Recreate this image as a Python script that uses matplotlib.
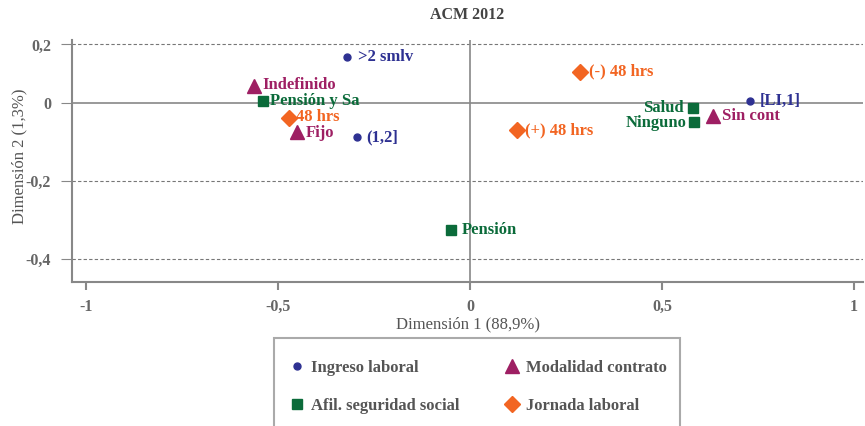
import matplotlib
matplotlib.use('Agg')
import matplotlib.pyplot as plt
from matplotlib.patches import Rectangle

# coordenadas del ACM 2012
ingreso_lab = ['>2 smlv', '(1,2]', '[LI,1]']
ingreso_x = [-0.32, -0.294, 0.729]
ingreso_y = [0.118, -0.087, 0.005]

modalidad_lab = ['Indefinido', 'Fijo', 'Sin cont']
modalidad_x = [-0.562, -0.45, 0.632]
modalidad_y = [0.044, -0.074, -0.033]

afil_lab = ['Pensión y Sa', 'Salud', 'Ninguno', 'Pensión']
afil_x = [-0.539, 0.58, 0.583, -0.049]
afil_y = [0.005, -0.012, -0.05, -0.326]

jornada_lab = ['48 hrs', '(-) 48 hrs', '(+) 48 hrs']
jornada_x = [-0.471, 0.287, 0.122]
jornada_y = [-0.038, 0.08, -0.069]

yticks = [-0.4, -0.2, 0, 0.15]
ytick_labels = ['-0,4', '-0,2', '0', '0,2']
xticks = [-1, -0.5, 0, 0.5, 1]
xtick_labels = ['-1', '-0,5', '0', '0,5', '1']

azul = '#2e3192'
morado = '#9e1f63'
verde = '#0b6b3a'
naranja = '#f26522'
gris = '#666666'

fuente = ['Liberation Serif', 'DejaVu Serif']
plt.rcParams['font.family'] = fuente

fig = plt.figure(figsize=(8.65, 4.26), dpi=100)
ax = fig.add_axes([72/865, 1-282/426, (863-72)/865, (282-40)/426])

ax.set_xlim(-1.036, 1.023)
ax.set_ylim(-0.459, 0.1615)

for y in [-0.4, -0.2, 0.15]:
    ax.axhline(y, color='#777777', lw=0.8, ls=(0, (3, 2)), zorder=1)
ax.axhline(0, color='#888888', lw=1.2, zorder=1)
ax.axvline(0, color='#888888', lw=1.2, zorder=1)

h1, = ax.plot(ingreso_x, ingreso_y, 'o', color=azul, ms=5, ls='none', label='Ingreso laboral', zorder=3)
h2, = ax.plot(modalidad_x, modalidad_y, '^', color=morado, ms=10, ls='none', label='Modalidad contrato', zorder=3)
h3, = ax.plot(afil_x, afil_y, 's', color=verde, ms=7.5, ls='none', label='Afil. seguridad social', zorder=3)
h4, = ax.plot(jornada_x, jornada_y, 'D', color=naranja, ms=8.5, ls='none', label='Jornada laboral', zorder=3)

def etiquetas(labs, xs, ys, color, offs, dys):
    for lab, x, y, dx, dy in zip(labs, xs, ys, offs, dys):
        ax.annotate(lab, (x, y), xytext=(dx, dy), textcoords='offset pixels',
                    ha='left' if dx > 0 else 'right', va='center',
                    fontsize=12, fontweight='bold', color=color, zorder=4)

etiquetas(ingreso_lab, ingreso_x, ingreso_y, azul, [11, 9, 10], [0, 0, 0])
etiquetas(modalidad_lab, modalidad_x, modalidad_y, morado, [8, 9, 9], [1, -1, 0])
etiquetas(afil_lab, afil_x, afil_y, verde, [7, -9, -7, 11], [0, 0, -1, 0])
etiquetas(jornada_lab, jornada_x, jornada_y, naranja, [7, 9, 8], [1, 0, 0])

for s in ['top', 'right']:
    ax.spines[s].set_visible(False)
for s in ['left', 'bottom']:
    ax.spines[s].set_color('#888888')
    ax.spines[s].set_linewidth(1.5)

ax.set_xticks(xticks)
ax.set_xticklabels(xtick_labels)
ax.set_yticks(yticks)
ax.set_yticklabels(ytick_labels)
ax.tick_params(axis='x', length=6, width=1.5, color='#888888', pad=6,
               labelsize=11.5, labelcolor=gris)
ax.tick_params(axis='y', length=8, width=0.8, color='#888888', pad=7,
               labelsize=11.5, labelcolor=gris)
for t in ax.get_xticklabels() + ax.get_yticklabels():
    t.set_fontweight('bold')

ax.set_xlabel('Dimensión 1 (88,9%)', fontsize=12, color='#555555', labelpad=1)
ax.set_ylabel('Dimensión 2 (1,3%)', fontsize=12, color='#555555')
ax.yaxis.set_label_coords(-0.057, 0.52)
ax.set_title('ACM 2012', fontsize=11.5, fontweight='bold', color='#444444', pad=15)

fig.add_artist(Rectangle((274/865, -0.05), (680-274)/865, 0.05 + (426-338)/426,
                         transform=fig.transFigure, fill=False,
                         edgecolor='#aaaaaa', lw=1.5))
fig.legend(handles=[h1, h3, h2, h4], ncol=2, frameon=False,
           loc='center', bbox_to_anchor=(477/865, 1-387/426),
           prop={'family': fuente, 'weight': 'bold', 'size': 12},
           labelcolor='#555555', labelspacing=1.35, columnspacing=2.6,
           handletextpad=0.2, handlelength=1.2)

fig.savefig('out.png', dpi=100)
